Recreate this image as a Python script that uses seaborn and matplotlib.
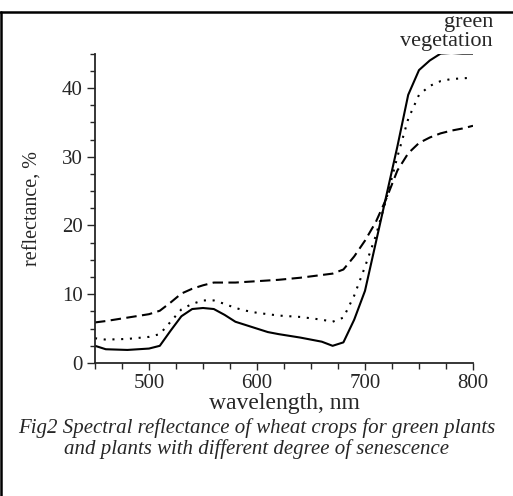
import matplotlib
matplotlib.use("Agg")
import matplotlib.pyplot as plt
import seaborn as sns
import pandas as pd
from matplotlib.ticker import MultipleLocator, FixedLocator
from matplotlib.lines import Line2D

wavelength = [450, 460, 480, 500, 510, 520, 530, 540, 550, 560, 570, 580, 590, 600,
              610, 620, 640, 660, 670, 680, 690, 700, 710, 720, 730, 740, 750, 760,
              770, 780, 790, 800]
green = [2.5, 2.0, 1.9, 2.1, 2.5, 4.7, 6.8, 7.85, 8.0, 7.85, 7.0, 6.0, 5.5, 5.0,
         4.5, 4.2, 3.7, 3.1, 2.5, 3.0, 6.3, 10.5, 17.5, 24.5, 31.5, 39.0, 42.6, 44.0,
         45.0, 45.1, 45.0, 45.0]
partial = [3.6, 3.4, 3.5, 3.8, 4.2, 6.0, 7.8, 8.6, 9.1, 9.1, 8.6, 8.0, 7.6, 7.3,
           7.1, 6.9, 6.7, 6.3, 6.0, 6.6, 9.8, 14.0, 18.5, 24.0, 30.0, 35.5, 39.0, 40.3,
           41.0, 41.3, 41.4, 41.5]
senescent = [5.9, 6.1, 6.6, 7.1, 7.6, 8.8, 10.1, 10.8, 11.3, 11.7, 11.7, 11.7, 11.8, 11.9,
             12.0, 12.1, 12.4, 12.8, 13.0, 13.6, 15.5, 17.8, 20.5, 24.0, 28.0, 30.5, 32.0, 32.8,
             33.4, 33.8, 34.1, 34.5]
x_major = [500, 600, 700, 800]
y_major = [0, 10, 20, 30, 40]

sns.set_style("ticks")
plt.rcParams['font.family'] = ['Liberation Serif', 'DejaVu Serif']

fig = plt.figure(figsize=(5.13, 4.96), dpi=100)
ax = fig.add_axes([95/513, 1-363/496, (473-95)/513, (363-53.6)/496])

styles = [(green, '-'), (partial, (0, (1, 3.2))), (senescent, (0, (5, 2.6)))]
for vals, ls in styles:
    df = pd.DataFrame({"wl": wavelength, "r": vals})
    sns.lineplot(data=df, x="wl", y="r", ax=ax, color='black', linestyle=ls,
                 linewidth=1.5, estimator=None, sort=False)

ax.set_xlim(450, 800)
ax.set_ylim(0, 45)
sns.despine(ax=ax)
for s in ['left', 'bottom']:
    ax.spines[s].set_linewidth(1.3)

ax.xaxis.set_major_locator(FixedLocator(x_major))
ax.xaxis.set_minor_locator(MultipleLocator(25))
ax.yaxis.set_major_locator(FixedLocator(y_major))
ax.yaxis.set_minor_locator(MultipleLocator(2.5))
ax.tick_params(which='both', direction='out', width=1.0, labelsize=15, pad=3)
ax.tick_params(axis='y', which='major', length=6)
ax.tick_params(axis='y', which='minor', length=3.5)
ax.tick_params(axis='x', which='major', length=5)
ax.tick_params(axis='x', which='minor', length=4)

ax.set_xlabel("")
ax.set_ylabel("reflectance, %", fontsize=14.5)
ax.yaxis.set_label_coords(-0.14, 0.5)
fig.text(284/513, 1-409/496, "wavelength, nm", ha='center', va='baseline', fontsize=17)

fig.text(493/513, 1-27/496, "green", ha='right', va='baseline', fontsize=16)
fig.text(493/513, 1-46/496, "vegetation", ha='right', va='baseline', fontsize=16)

fig.text(0.5, 1-433/496, "Fig2 Spectral reflectance of wheat crops for green plants",
         ha='center', va='baseline', fontsize=15, style='italic')
fig.text(0.5, 1-454/496, "and plants with different degree of senescence",
         ha='center', va='baseline', fontsize=15, style='italic')

fig.add_artist(Line2D([0, 1], [1-12/496, 1-12/496], color='black', linewidth=1.8,
                      transform=fig.transFigure))
fig.add_artist(Line2D([1/513, 1/513], [0, 1-12/496], color='black', linewidth=1.8,
                      transform=fig.transFigure))

fig.savefig("out.png", dpi=100)
